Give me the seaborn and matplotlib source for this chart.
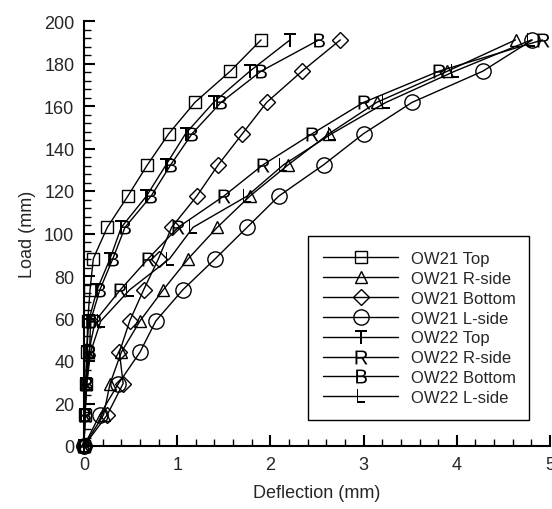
import matplotlib
matplotlib.use("Agg")
import matplotlib.pyplot as plt
from matplotlib.ticker import MultipleLocator
import seaborn as sns
import pandas as pd

loads = [0, 14.7, 29.4, 44.1, 58.8, 73.5, 88.2, 102.9, 117.6, 132.3, 147.0, 161.7, 176.4, 191.1]

ow21_top = [0, 0.01, 0.02, 0.03, 0.04, 0.065, 0.10, 0.25, 0.47, 0.68, 0.91, 1.19, 1.57, 1.90]
ow21_rside = [0, 0.21, 0.28, 0.40, 0.60, 0.85, 1.12, 1.43, 1.78, 2.19, 2.63, 3.14, 3.90, 4.63]
ow21_bottom = [0, 0.25, 0.42, 0.38, 0.49, 0.64, 0.80, 0.94, 1.21, 1.44, 1.70, 1.96, 2.34, 2.75]
ow21_lside = [0, 0.17, 0.37, 0.60, 0.77, 1.06, 1.41, 1.75, 2.09, 2.57, 3.00, 3.52, 4.28, 4.81]
ow22_top = [0, 0.01, 0.02, 0.03, 0.05, 0.14, 0.28, 0.40, 0.67, 0.88, 1.09, 1.39, 1.78, 2.21]
ow22_rside = [0, 0.01, 0.02, 0.05, 0.12, 0.39, 0.69, 1.01, 1.50, 1.92, 2.45, 3.00, 3.81, 4.92]
ow22_bottom = [0, 0.01, 0.03, 0.06, 0.07, 0.17, 0.31, 0.44, 0.72, 0.93, 1.16, 1.47, 1.90, 2.52]
ow22_lside = [0, 0.01, 0.03, 0.07, 0.18, 0.49, 0.92, 1.17, 1.75, 2.14, 2.66, 3.24, 3.98, 4.80]

series_names = ["OW21 Top", "OW21 R-side", "OW21 Bottom", "OW21 L-side",
                "OW22 Top", "OW22 R-side", "OW22 Bottom", "OW22 L-side"]
series_values = [ow21_top, ow21_rside, ow21_bottom, ow21_lside,
                 ow22_top, ow22_rside, ow22_bottom, ow22_lside]

sns.set_style("ticks")
plt.rcParams['font.family'] = ['Liberation Sans', 'DejaVu Sans']
plt.rcParams['mathtext.default'] = 'regular'

rows = []
for name, vals in zip(series_names, series_values):
    for d, l in zip(vals, loads):
        rows.append({"series": name, "Deflection": d, "Load": l})
df = pd.DataFrame(rows)

styles = {
    "OW21 Top": dict(marker="s", ms=8, mfc="none", mec="black", mew=1.0),
    "OW21 R-side": dict(marker="^", ms=9, mfc="none", mec="black", mew=1.0),
    "OW21 Bottom": dict(marker="D", ms=8, mfc="none", mec="black", mew=1.0),
    "OW21 L-side": dict(marker="o", ms=11, mfc="none", mec="black", mew=1.0),
    "OW22 Top": dict(marker="$T$", ms=10, mfc="black", mec="black", mew=0),
    "OW22 R-side": dict(marker="$R$", ms=10, mfc="black", mec="black", mew=0),
    "OW22 Bottom": dict(marker="$B$", ms=10, mfc="black", mec="black", mew=0),
    "OW22 L-side": dict(marker="$L$", ms=10, mfc="black", mec="black", mew=0),
}

fig = plt.figure(figsize=(5.52, 5.10), dpi=100)
ax = fig.add_axes([84/552, 63/510, 466/552, 425/510])

for name in series_names:
    sub = df[df["series"] == name]
    sns.lineplot(data=sub, x="Deflection", y="Load", ax=ax, color="black",
                 lw=1.0, sort=False, estimator=None, label=name,
                 clip_on=False, **styles[name])

ax.set_xlim(0, 5)
ax.set_ylim(0, 200)
ax.xaxis.set_major_locator(MultipleLocator(1))
ax.xaxis.set_minor_locator(MultipleLocator(0.2))
ax.yaxis.set_major_locator(MultipleLocator(20))
ax.yaxis.set_minor_locator(MultipleLocator(4))
ax.tick_params(which="major", direction="in", length=8, width=1.5, labelsize=13, pad=7, color="black")
ax.tick_params(which="minor", direction="in", length=5, width=1.0, color="black")
for s in ["top", "right"]:
    ax.spines[s].set_visible(False)
for s in ["left", "bottom"]:
    ax.spines[s].set_linewidth(1.5)
    ax.spines[s].set_color("black")

ax.set_xlabel("Deflection (mm)", fontsize=13, labelpad=8)
ax.set_ylabel("Load (mm)", fontsize=13, labelpad=6)

leg = ax.legend(loc="lower left", bbox_to_anchor=((308-84)/466, (447-421)/425, (529-308)/466, (421-239)/425),
                mode="expand", fontsize=12, frameon=True, fancybox=False, framealpha=1,
                edgecolor="black", handlelength=4.5, handletextpad=0.8, labelspacing=0.29,
                borderpad=0.9, borderaxespad=0)
leg.get_frame().set_linewidth(1.0)

fig.savefig("out.png", dpi=100)
